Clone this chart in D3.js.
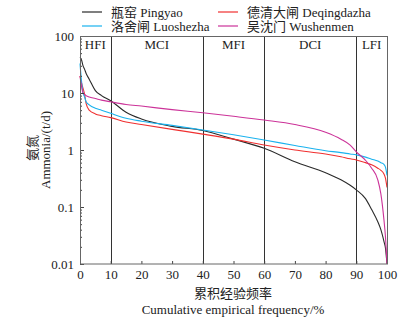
<!DOCTYPE html>
<html>
<head>
<meta charset="utf-8">
<script src="https://cdn.jsdelivr.net/npm/d3@7"></script>
<style>
  body { margin: 0; background: #fff; }
  text { font-family: "Liberation Serif", "Noto Sans CJK SC", serif; font-size: 13px; fill: #222; }
  .tick line { stroke: #444; }
</style>
</head>
<body>
<div id="wrapper"></div>
<script>
// cumulative empirical frequency (%)
const freq = [0, 0.5, 1, 1.5, 2, 3, 5, 7, 10, 15, 20, 30, 40, 50, 60, 70, 80, 85, 88, 90, 93, 95, 97, 98, 99, 99.5, 100]

// ammonia load (t/d) per station
const pingyao     = [42, 38, 30, 26, 22, 17.5, 11, 9, 7.3, 4.6, 3.5, 2.6, 2.2, 1.55, 1.07, 0.62, 0.4, 0.3, 0.24, 0.2, 0.14, 0.09, 0.055, 0.04, 0.025, 0.019, 0.01]
const deqingdazha = [20, 15, 12, 9.5, 6.5, 5.0, 4.3, 4.0, 3.7, 3.1, 2.8, 2.3, 1.9, 1.55, 1.22, 1.0, 0.85, 0.76, 0.7, 0.67, 0.6, 0.55, 0.48, 0.44, 0.38, 0.32, 0.22]
const luoshezha   = [33, 16, 10, 8.5, 7, 6.2, 5.4, 5.0, 4.4, 3.6, 3.2, 2.7, 2.25, 1.85, 1.5, 1.2, 0.97, 0.9, 0.85, 0.82, 0.75, 0.69, 0.64, 0.6, 0.56, 0.5, 0.36]
const wushenmen   = [20, 13, 10, 9.5, 9, 8.5, 8, 7.5, 7, 6.3, 5.9, 5.1, 4.5, 3.9, 3.35, 2.8, 2.05, 1.55, 1.22, 0.93, 0.66, 0.48, 0.3, 0.17, 0.06, 0.03, 0.01]

const seriesNames = ["瓶窑 Pingyao", "德清大闸 Deqingdazha", "洛舍闸 Luoshezha", "吴沈门 Wushenmen"]
const seriesValues = [pingyao, deqingdazha, luoshezha, wushenmen]
const seriesColors = ["#2a2a2a", "#f03030", "#1ab2ee", "#cc3399"]

// flow regimes
const zoneBreaks = [0, 10, 40, 60, 90, 100]
const zoneNames = ["HFI", "MCI", "MFI", "DCI", "LFI"]

const xTicks = d3.range(0, 101, 10)
const yTicks = [0.01, 0.1, 1, 10, 100]

async function drawChart() {
  let dimensions = {
    width: 407,
    height: 320,
    margin: { top: 36, right: 20, bottom: 56, left: 80 },
  }
  dimensions.boundedWidth = dimensions.width - dimensions.margin.left - dimensions.margin.right
  dimensions.boundedHeight = dimensions.height - dimensions.margin.top - dimensions.margin.bottom

  const svg = d3.select("#wrapper").append("svg")
    .attr("width", dimensions.width)
    .attr("height", dimensions.height)

  const bounds = svg.append("g")
    .attr("transform", `translate(${dimensions.margin.left},${dimensions.margin.top})`)

  const xScale = d3.scaleLinear()
    .domain([0, 100])
    .range([0, dimensions.boundedWidth])

  const yScale = d3.scaleLog()
    .domain([0.01, 100])
    .range([dimensions.boundedHeight, 0])

  // zone dividers
  bounds.selectAll(".zone-line")
    .data(zoneBreaks.slice(1, -1))
    .enter().append("line")
    .attr("x1", d => Math.round(xScale(d)) + 0.5)
    .attr("x2", d => Math.round(xScale(d)) + 0.5)
    .attr("y1", 0)
    .attr("y2", dimensions.boundedHeight)
    .attr("stroke", "#333")
    .attr("stroke-width", 1)

  bounds.selectAll(".zone-label")
    .data(zoneNames)
    .enter().append("text")
    .attr("x", (d, i) => xScale((zoneBreaks[i] + zoneBreaks[i + 1]) / 2))
    .attr("y", 13)
    .attr("text-anchor", "middle")
    .text(d => d)

  // curves
  const lineGenerator = d3.line()
    .x((d, i) => xScale(freq[i]))
    .y(d => yScale(d))
    .curve(d3.curveMonotoneX)

  bounds.selectAll(".series")
    .data(seriesValues)
    .enter().append("path")
    .attr("d", d => lineGenerator(d))
    .attr("fill", "none")
    .attr("stroke", (d, i) => seriesColors[i])
    .attr("stroke-width", 1.1)

  // axes
  const yAxis = bounds.append("g")
    .call(d3.axisLeft(yScale).tickValues(yTicks).tickFormat(d3.format("~g")).tickSize(-4).tickPadding(6))
  const minorTicks = []
  yTicks.slice(0, -1).forEach(t => d3.range(2, 10).forEach(m => minorTicks.push(t * m)))
  const yMinor = bounds.append("g")
    .call(d3.axisLeft(yScale).tickValues(minorTicks).tickFormat("").tickSize(-2))

  const xAxis = bounds.append("g")
    .attr("transform", `translate(0,${dimensions.boundedHeight})`)
    .call(d3.axisBottom(xScale).tickValues(xTicks).tickSize(-3).tickPadding(6))

  ;[yAxis, yMinor, xAxis].forEach(a => {
    a.select(".domain").remove()
    a.selectAll("text").style("font-family", "Liberation Serif").style("font-size", "13px").attr("fill", "#222")
  })

  bounds.append("rect")
    .attr("x", 0.5)
    .attr("y", 0.5)
    .attr("width", dimensions.boundedWidth)
    .attr("height", dimensions.boundedHeight - 0.5)
    .attr("fill", "none")
    .attr("stroke", "#666")
    .attr("stroke-width", 1)

  // axis titles
  svg.append("text")
    .attr("transform", "translate(37,148) rotate(-90)")
    .attr("text-anchor", "middle")
    .text("氨氮")
  svg.append("text")
    .attr("transform", "translate(50,150) rotate(-90)")
    .attr("text-anchor", "middle")
    .text("Ammonia/(t/d)")

  svg.append("text")
    .attr("x", 233)
    .attr("y", 298)
    .attr("text-anchor", "middle")
    .text("累积经验频率")
  svg.append("text")
    .attr("x", 233)
    .attr("y", 314)
    .attr("text-anchor", "middle")
    .text("Cumulative empirical frequency/%")

  // legend
  const legendX = [82, 218]
  const legendY = [12, 26]
  const legend = svg.selectAll(".legend-item")
    .data(seriesNames)
    .enter().append("g")
    .attr("transform", (d, i) => `translate(${legendX[i % 2]},${legendY[Math.floor(i / 2)]})`)
  legend.append("line")
    .attr("x1", 0)
    .attr("x2", 20)
    .attr("stroke", (d, i) => seriesColors[i])
    .attr("stroke-width", 1.2)
  legend.append("text")
    .attr("x", 29)
    .attr("y", 4.5)
    .text(d => d)
}
drawChart()
</script>
</body>
</html>
